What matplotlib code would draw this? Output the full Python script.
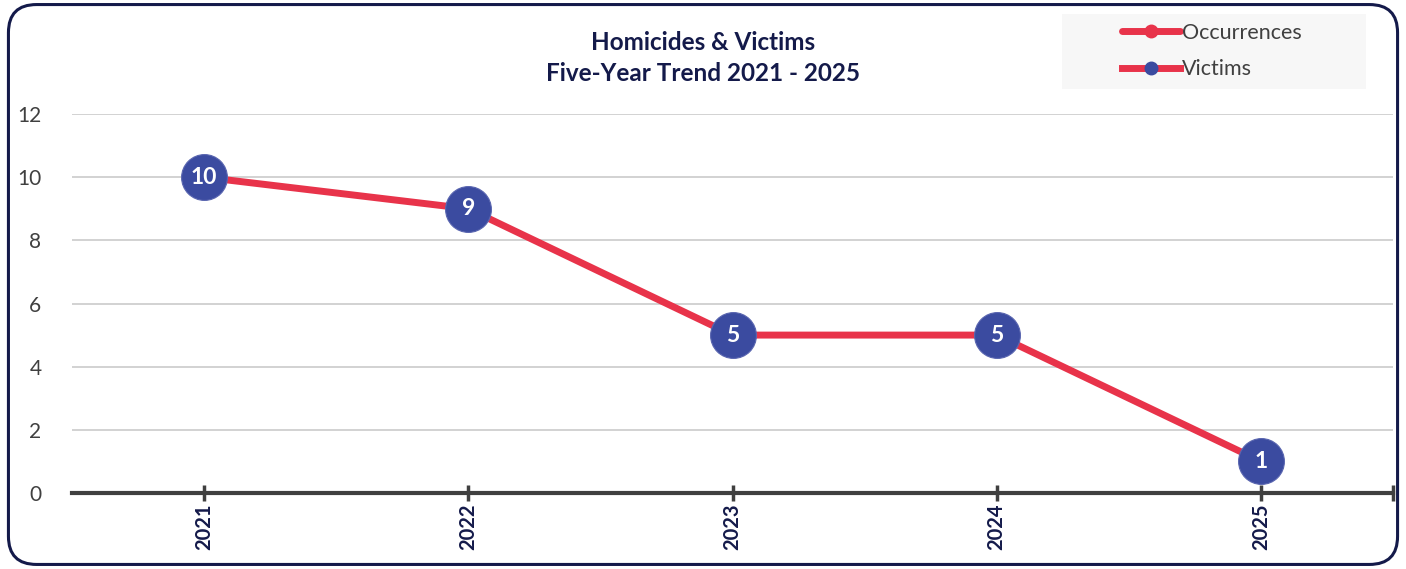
import matplotlib
matplotlib.use('Agg')
import matplotlib.pyplot as plt
from matplotlib.patches import FancyBboxPatch, Rectangle
import numpy as np

plt.rcParams['font.family'] = ['Lato', 'DejaVu Sans']

ANOS = ['2021', '2022', '2023', '2024', '2025']
OCORRENCIAS = [10, 9, 5, 5, 1]
VITIMAS = [10, 9, 5, 5, 1]

VERMELHO = '#e8334a'
AZUL = '#3b4ba0'
NAVY = '#141a4a'
CINZA_TXT = '#404040'

fig = plt.figure(figsize=(14.06, 5.69), dpi=100)
ax = fig.add_axes([0.0512, 0.1336, 0.9396, 0.666])

x = np.arange(len(ANOS))
ax.plot(x, OCORRENCIAS, color=VERMELHO, linewidth=5, marker='o',
        markersize=9, markerfacecolor=VERMELHO, markeredgecolor=VERMELHO,
        label='Occurrences', zorder=3, solid_capstyle='round')
ax.plot(x, VITIMAS, color=VERMELHO, linewidth=0, marker='o',
        markersize=33, markerfacecolor=AZUL, markeredgecolor='#5a66b0',
        markeredgewidth=0.8, zorder=4)
for xi, v in zip(x, VITIMAS):
    ax.text(xi, v, str(v), ha='center', va='center', color='white',
            fontsize=16.5, fontweight='bold', zorder=5)

# entrada da legenda para Victims: linha vermelha com marcador azul
ax.plot([], [], color=VERMELHO, linewidth=5, marker='o', markersize=9,
        markerfacecolor=AZUL, markeredgecolor=AZUL, label='Victims')

ax.set_xlim(-0.5, len(ANOS) - 0.5)
ax.set_ylim(0, 12)
ax.set_yticks(range(0, 13, 2))
ax.yaxis.grid(True, color='#cfcfcf', linewidth=1.3)
ax.set_axisbelow(True)
ax.tick_params(axis='y', length=0, labelsize=15, labelcolor=CINZA_TXT, pad=22)

ax.set_xticks(x)
ax.set_xticklabels(ANOS, rotation=90, fontsize=14.5, fontweight='bold', color=NAVY)
ax.set_xticks([len(ANOS) - 0.5], minor=True)
ax.tick_params(axis='x', which='both', direction='inout', length=11, width=2.5,
               color=CINZA_TXT, pad=2)

for s in ['top', 'right', 'left']:
    ax.spines[s].set_visible(False)
ax.spines['bottom'].set_color(CINZA_TXT)
ax.spines['bottom'].set_linewidth(3)
ax.spines['bottom'].set_zorder(2)

fig.text(0.5, 0.925, 'Homicides & Victims', ha='center', va='center',
         fontsize=17.5, fontweight='bold', color=NAVY)
fig.text(0.5, 0.871, 'Five-Year Trend 2021 - 2025', ha='center', va='center',
         fontsize=17.5, fontweight='bold', color=NAVY)

# fundo cinza-claro da legenda
fig.patches.append(Rectangle((1062 / 1406, 1 - 89 / 569), 304 / 1406, 75 / 569,
                             transform=fig.transFigure, facecolor='#f7f7f7',
                             edgecolor='none', zorder=0))

leg = fig.legend(loc='center left', bbox_to_anchor=(1122 / 1406, 1 - 51 / 569),
                 frameon=False, fontsize=15.5, handlelength=2.7,
                 handletextpad=0.1, labelspacing=0.75, borderpad=0,
                 borderaxespad=0)
for t in leg.get_texts():
    t.set_color(CINZA_TXT)

borda = FancyBboxPatch((0.006, 0.008), 0.988, 0.984,
                       boxstyle='round,pad=0,rounding_size=0.02',
                       transform=fig.transFigure, facecolor='none',
                       edgecolor=NAVY, linewidth=2.2, mutation_aspect=2.47)
fig.patches.append(borda)

fig.savefig('out.png', dpi=100)
plt.close(fig)
